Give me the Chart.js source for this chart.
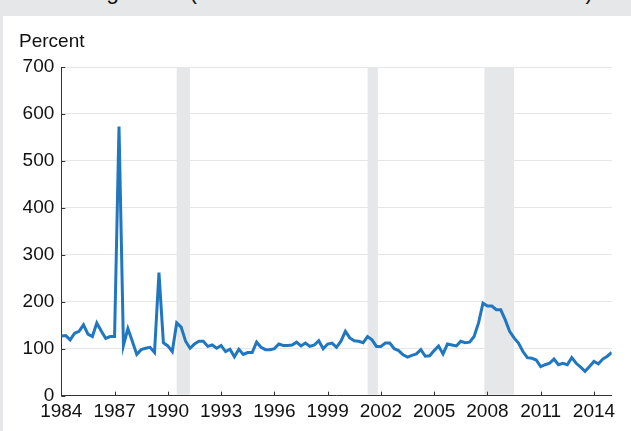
<!DOCTYPE html>
<html>
<head>
<meta charset="utf-8">
<script src="https://cdn.jsdelivr.net/npm/chart.js@4.4.1/dist/chart.umd.min.js"></script>
<style>
  html, body { margin: 0; padding: 0; background: #e6e7e8; overflow: hidden; }
  body { width: 631px; height: 431px; position: relative; font-family: "Liberation Sans", Arial, sans-serif; }
  #title { position: absolute; left: 32px; top: -20px; font-size: 23px; line-height: 23px; color: #111; white-space: nowrap; }
  #panel { position: absolute; left: 3px; top: 16px; width: 628px; height: 415px; background: #fff; }
</style>
</head>
<body>
<div id="title">Coverage ratio (loan loss reserves to noncurrent loans)</div>
<div id="panel"><canvas id="chart" width="628" height="415"></canvas></div>
<script>
// quarterly series, 1984Q1 .. 2015Q1
const firstYear = 1984;
const ratio = [
  127, 128, 119, 133, 137, 151, 131, 126, 155, 138,
  122, 126, 126, 573, 107, 143, 116, 88, 98, 101,
  103, 92, 262, 113, 106, 94, 155, 146, 116, 101,
  110, 116, 116, 105, 108, 101, 107, 94, 99, 83,
  99, 88, 92, 92, 114, 103, 98, 98, 100, 110,
  107, 107, 108, 114, 106, 112, 105, 108, 117, 100,
  110, 112, 103, 116, 137, 123, 117, 116, 113, 126,
  119, 105, 105, 112, 112, 100, 96, 87, 82, 86,
  89, 98, 84, 85, 96, 106, 89, 110, 108, 106,
  116, 113, 114, 126, 155, 197, 191, 191, 183, 183,
  162, 137, 123, 112, 94, 81, 80, 76, 62, 66,
  69, 78, 66, 69, 66, 81, 69, 61, 52, 62,
  73, 68, 78, 84, 92
];
const yearTicks = [1984, 1987, 1990, 1993, 1996, 1999, 2002, 2005, 2008, 2011, 2014];
const percentTicks = [0, 100, 200, 300, 400, 500, 600, 700];
const recessionStart = [1990.5, 2001.25, 2007.83];
const recessionEnd = [1991.25, 2001.83, 2009.5];

const points = ratio.map((v, i) => ({ x: firstYear + i / 4, y: v }));

const axisColor = '#333';
const tickFont = { family: '"Liberation Sans", Arial, sans-serif', size: 19 };

const recessionBands = {
  id: 'recessionBands',
  beforeDatasetsDraw(chart) {
    const { ctx, chartArea, scales: { x, y } } = chart;
    ctx.save();
    ctx.fillStyle = '#e6e7e8';
    recessionStart.forEach((s, i) => {
      const x0 = x.getPixelForValue(s);
      const x1 = x.getPixelForValue(recessionEnd[i]);
      ctx.fillRect(x0, chartArea.top, x1 - x0, chartArea.bottom - chartArea.top - 1);
    });
    // small inward tick marks
    ctx.strokeStyle = axisColor;
    ctx.lineWidth = 1;
    ctx.beginPath();
    x.ticks.forEach(t => {
      const px = Math.round(x.getPixelForValue(t.value)) + 0.5;
      ctx.moveTo(px, chartArea.bottom);
      ctx.lineTo(px, chartArea.bottom - 4);
    });
    y.ticks.forEach(t => {
      const py = Math.round(y.getPixelForValue(t.value)) + 0.5;
      ctx.moveTo(chartArea.left, py);
      ctx.lineTo(chartArea.left + 4, py);
    });
    ctx.stroke();
    ctx.restore();
  }
};

const unitLabel = {
  id: 'unitLabel',
  afterDraw(chart) {
    const ctx = chart.ctx;
    ctx.save();
    ctx.font = '19px "Liberation Sans", Arial, sans-serif';
    ctx.fillStyle = '#111';
    ctx.textBaseline = 'alphabetic';
    ctx.fillText('Percent', 16, 31);
    ctx.restore();
  }
};

new Chart(document.getElementById('chart').getContext('2d'), {
  type: 'line',
  data: {
    datasets: [{
      data: points,
      borderColor: '#2077c0',
      borderWidth: 3,
      pointRadius: 0,
      tension: 0,
      fill: false
    }]
  },
  options: {
    responsive: false,
    animation: false,
    layout: { padding: { left: 0, top: 51, right: 19.3, bottom: 0 } },
    plugins: { legend: { display: false }, tooltip: { enabled: false } },
    scales: {
      x: {
        type: 'linear',
        min: 1984,
        max: 2015,
        afterBuildTicks: scale => { scale.ticks = yearTicks.map(v => ({ value: v })); },
        afterFit: scale => { scale.height = 35.3; },
        ticks: { color: '#111', font: tickFont, padding: 5, maxRotation: 0, autoSkip: false, callback: v => String(v) },
        grid: { display: false, drawTicks: false },
        border: { display: true, color: axisColor, width: 1 }
      },
      y: {
        min: 0,
        max: 700,
        afterBuildTicks: scale => { scale.ticks = percentTicks.map(v => ({ value: v })); },
        afterFit: scale => { scale.width = 58.3; },
        ticks: { color: '#111', font: tickFont, padding: 7, callback: v => String(v) },
        grid: { color: '#e6e6e6', lineWidth: 1, drawTicks: false },
        border: { display: true, color: axisColor, width: 1 }
      }
    }
  },
  plugins: [recessionBands, unitLabel]
});
</script>
</body>
</html>
